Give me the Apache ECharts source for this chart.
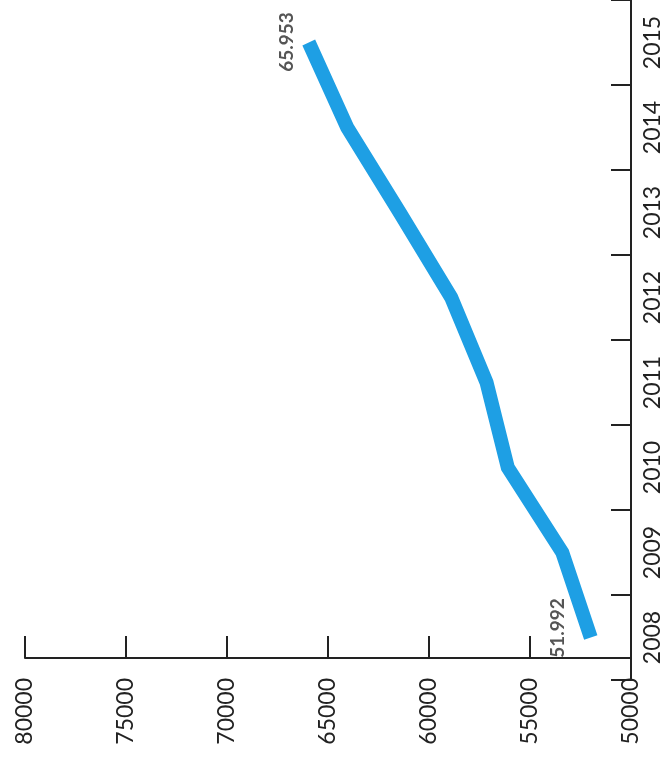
<!DOCTYPE html>
<html>
<head>
<meta charset="utf-8">
<script src="https://cdn.jsdelivr.net/npm/echarts@6/dist/echarts.min.js"></script>
<style>
html,body{margin:0;padding:0;background:#fff;}
#chart{width:664px;height:778px;}
</style>
</head>
<body>
<div id="chart"></div>
<script>
var years = ['2008','2009','2010','2011','2012','2013','2014','2015'];
var values = [51992, 53400, 56100, 57150, 58900, 61450, 64050, 65953];
var endLabels = ['51.992', '65.953'];
var valueTicks = [50000, 55000, 60000, 65000, 70000, 75000, 80000];

var labelFont = {
  show: true, rotate: 90, align: 'center', verticalAlign: 'middle',
  color: '#555', fontSize: 19, fontWeight: 'bold',
  fontFamily: 'Lato, "Open Sans", sans-serif'
};

var chart = echarts.init(document.getElementById('chart'));
var data = values.map(function (v, i) {
  var item = { value: v };
  if (i === 0) {
    item.label = Object.assign({}, labelFont, { formatter: endLabels[0], position: [-32, -9] });
  } else if (i === values.length - 1) {
    item.label = Object.assign({}, labelFont, { formatter: endLabels[1], position: [-21, 0] });
  }
  return item;
});

chart.setOption({
  animation: false,
  backgroundColor: '#ffffff',
  grid: { left: 25, right: 32, top: 0, bottom: 98, containLabel: false },
  xAxis: {
    type: 'value',
    inverse: true,
    min: valueTicks[0],
    max: valueTicks[valueTicks.length - 1],
    interval: 5000,
    position: 'bottom',
    offset: -22,
    splitLine: { show: false },
    axisLine: { show: true, lineStyle: { color: '#222', width: 2 } },
    axisTick: { show: true, inside: true, length: 22, lineStyle: { color: '#222', width: 2 } },
    axisLabel: {
      rotate: 90, margin: 20, color: '#222', fontSize: 23,
      fontFamily: 'Lato, "Open Sans", sans-serif',
      formatter: function (v) { return String(v); }
    }
  },
  yAxis: {
    type: 'category',
    data: years,
    position: 'right',
    boundaryGap: true,
    splitLine: { show: false },
    axisLine: { show: true, lineStyle: { color: '#222', width: 2 } },
    axisTick: { show: true, inside: true, length: 20, lineStyle: { color: '#222', width: 2 } },
    axisLabel: {
      rotate: 90, margin: 10, color: '#222', fontSize: 23,
      fontFamily: 'Lato, "Open Sans", sans-serif'
    }
  },
  series: [{
    type: 'line',
    data: data,
    symbol: 'circle',
    symbolSize: 1,
    showSymbol: true,
    itemStyle: { color: 'rgba(0,0,0,0)' },
    lineStyle: { color: '#1e9fe4', width: 14, cap: 'butt', join: 'miter' },
    label: { show: false }
  }]
});
</script>
</body>
</html>
